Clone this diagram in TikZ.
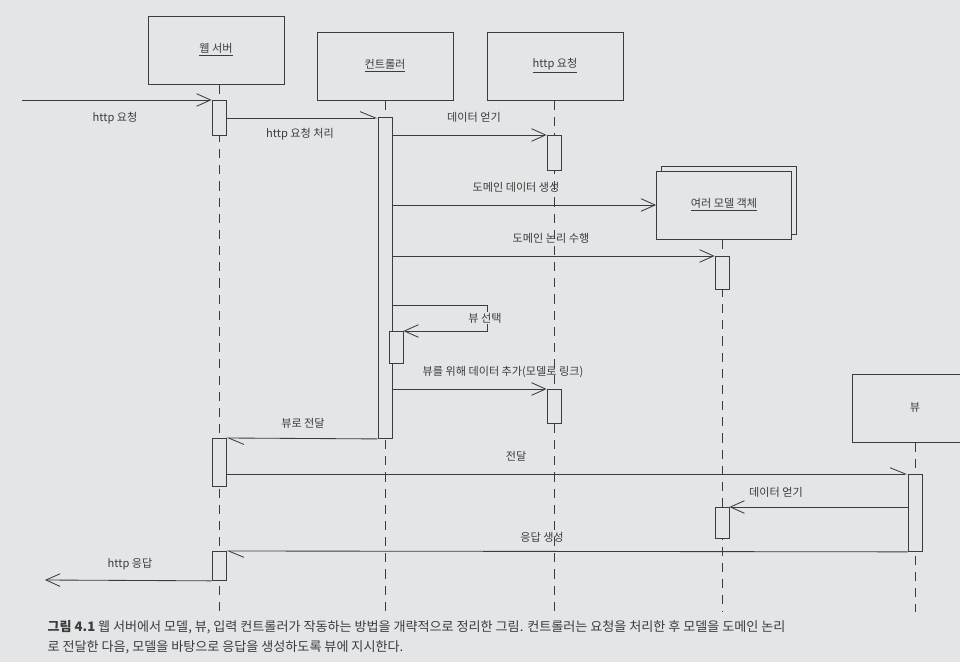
\documentclass[tikz,border=0pt]{standalone}
\usepackage{fontspec}
\setmainfont{Noto Sans CJK KR}
\usepackage{tikz}
\usetikzlibrary{arrows.meta}
\definecolor{paper}{HTML}{E3E5E7}
\definecolor{ink}{HTML}{3C3C3C}

\begin{document}
\begin{tikzpicture}[x=0.025cm, y=-0.025cm,
    lbl/.style={text=ink, font=\fontsize{7.9}{9}\selectfont, inner sep=1pt},
    obj/.style={draw=ink, fill=paper, line width=0.6pt, minimum width=3.4cm, minimum height=1.7cm, text=ink, font=\fontsize{7.9}{9}\selectfont},
    act/.style={draw=ink, fill=paper, line width=0.6pt, minimum width=0.35cm, inner sep=0pt, anchor=north},
    life/.style={draw=ink, line width=0.6pt, dash pattern=on 6.5pt off 5pt},
    msg/.style={draw=ink, line width=0.6pt, -{Straight Barb[length=10pt, width=9pt]}},
    async/.style={draw=ink, line width=0.6pt, -{Straight Barb[harpoon, length=11pt, width=9pt]}}]
  \fill[paper] (0,0) rectangle (960,662);
  \useasboundingbox (0,0) rectangle (960,662);

  % objects
  \node[obj] (web) at (216,50) {\underline{웹 서버}};
  \node[obj] (ctrl) at (385,66) {\underline{컨트롤러}};
  \node[obj] (req) at (555,66) {\underline{http 요청}};
  \node[obj, minimum width=3.375cm] (mback) at (729,200) {};
  \node[obj, minimum width=3.375cm] (model) at (724,205) {\underline{여러 모델 객체}};
  \node[obj, minimum width=3.15cm] (view) at (915,408) {뷰};

  % lifelines
  \draw[life] (web.south -| 219,0) -- (219,612);
  \draw[life] (ctrl.south) -- (385,612);
  \draw[life] (req.south -| 554,0) -- (554,612);
  \draw[life] (model.south -| 722,0) -- (722,612);
  \draw[life] (view.south) -- (915,612);

  % activations
  \node[act, minimum height=0.875cm] (wa1) at (219,100) {};
  \node[act, minimum height=8.025cm] (ca) at (385,117) {};
  \node[act, minimum height=0.875cm] (ra1) at (554,135) {};
  \node[act, minimum height=0.825cm] (ma1) at (722,256) {};
  \node[act, minimum height=0.8cm] (ca2) at (396,331) {};
  \node[act, minimum height=0.85cm] (ra2) at (554,389) {};
  \node[act, minimum height=1.2cm] (wa2) at (219,438) {};
  \node[act, minimum height=1.925cm] (va) at (915,474) {};
  \node[act, minimum height=0.775cm] (ma2) at (722,507) {};
  \node[act, minimum height=0.725cm] (wa3) at (219,551) {};

  % messages
  \coordinate (in) at (22,100);
  \coordinate (out) at (45,580);
  \coordinate (sel) at (487,305);
  \draw[msg] (in) -- (wa1.north west);
  \node[lbl] (l1) at (115,118) {http 요청};
  \draw[async] (wa1.east) -- (wa1.east -| ca.west);
  \node[lbl] (l2) at (300,134) {http 요청 처리};
  \draw[msg] (ca.east |- ra1.north) -- (ra1.north west);
  \node[lbl] (l3) at (474,117) {데이터 얻기};
  \draw[msg] (ca.east |- model.west) -- (model.west);
  \node[lbl] (l4) at (516,187) {도메인 데이터 생성};
  \draw[msg] (ca.east |- ma1.north) -- (ma1.north west);
  \node[lbl] (l5) at (551,238) {도메인 논리 수행};
  \draw[msg] (ca.east |- sel) -- (sel) -- (sel |- ca2.north) -- (ca2.north east);
  \node[lbl, fill=paper] (l6) at (485,318) {뷰 선택};
  \draw[msg] (ca.east |- ra2.north) -- (ra2.north west);
  \node[lbl] (l7) at (503,372) {뷰를 위해 데이터 추가(모델로 링크)};
  \draw[async] (ca.south west) -- (wa2.north east);
  \node[lbl] (l8) at (303,423) {뷰로 전달};
  \draw[async] (wa2.east |- va.north) -- (va.north west);
  \node[lbl] (l9) at (516,456) {전달};
  \draw[msg] (va.west |- ma2.north) -- (ma2.north east);
  \node[lbl] (l10) at (776,492) {데이터 얻기};
  \draw[async] (va.south west) -- (wa3.north east);
  \node[lbl] (l11) at (542,537) {응답 생성};
  \draw[msg] (wa3.south west) -- (out);
  \node[lbl] (l12) at (130,564) {http 응답};

  % caption
  \node[lbl, anchor=west, font=\fontsize{9.3}{11}\selectfont] (cap1) at (46,627) {\textbf{그림 4.1} 웹 서버에서 모델, 뷰, 입력 컨트롤러가 작동하는 방법을 개략적으로 정리한 그림. 컨트롤러는 요청을 처리한 후 모델을 도메인 논리};
  \node[lbl, anchor=west, font=\fontsize{9.3}{11}\selectfont] (cap2) at (46,647) {로 전달한 다음, 모델을 바탕으로 응답을 생성하도록 뷰에 지시한다.};
\end{tikzpicture}
\end{document}
